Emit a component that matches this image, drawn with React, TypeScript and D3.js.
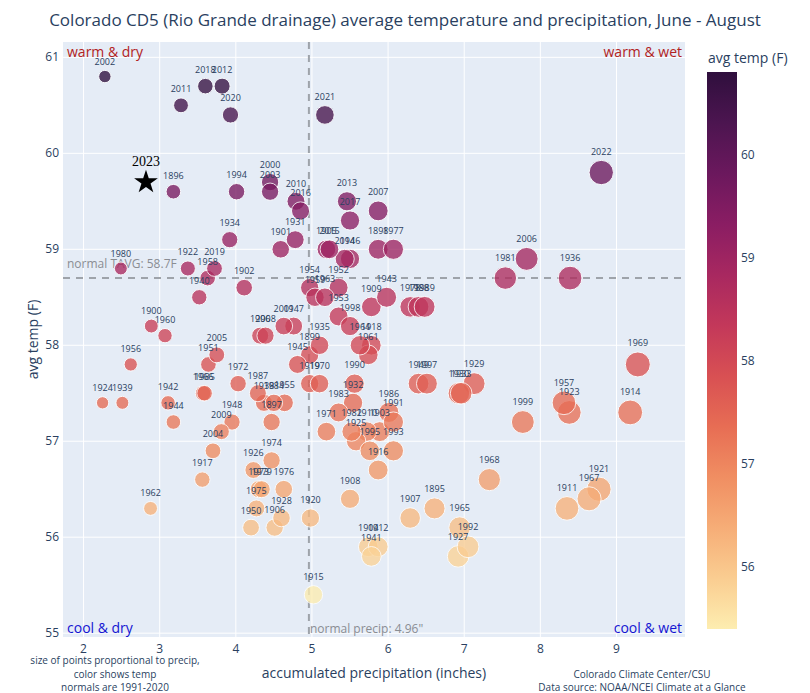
import React, { useEffect, useRef } from "react";
import * as d3 from "d3";

// June-August averages, Colorado climate division 5
const years = [
  1895, 1896, 1897, 1898, 1899, 1900, 1901, 1902, 1903, 1904,
  1905, 1906, 1907, 1908, 1909, 1910, 1911, 1912, 1914, 1915,
  1916, 1917, 1918, 1919, 1920, 1921, 1922, 1923, 1924, 1925,
  1926, 1927, 1928, 1929, 1930, 1931, 1932, 1933, 1934, 1935,
  1936, 1938, 1939, 1940, 1941, 1942, 1943, 1944, 1945, 1946,
  1947, 1948, 1949, 1950, 1951, 1952, 1953, 1954, 1955, 1956,
  1957, 1958, 1959, 1960, 1961, 1962, 1963, 1964, 1965, 1966,
  1967, 1968, 1969, 1970, 1971, 1972, 1973, 1974, 1975, 1976,
  1977, 1978, 1979, 1980, 1981, 1982, 1983, 1984, 1985, 1986,
  1987, 1988, 1989, 1990, 1991, 1992, 1993, 1994, 1995, 1996,
  1997, 1998, 1999, 2000, 2001, 2002, 2003, 2004, 2005, 2006,
  2007, 2008, 2009, 2010, 2011, 2012, 2013, 2014, 2015, 2016,
  2017, 2018, 2019, 2020, 2021, 2022,
];

const precip = [
  6.61, 3.18, 4.47, 5.87, 4.97, 2.89, 4.59, 4.11, 5.89, 5.74,
  5.19, 4.51, 6.29, 5.5, 5.78, 5.72, 8.35, 5.87, 9.18, 5.02,
  5.87, 3.56, 5.78, 4.97, 4.98, 8.77, 3.37, 8.38, 2.25, 5.58,
  4.23, 6.92, 4.6, 7.13, 6.93, 4.78, 5.54, 6.96, 3.92, 5.1,
  8.39, 4.37, 2.51, 3.52, 5.78, 3.11, 5.98, 3.18, 4.81, 5.5,
  4.76, 3.95, 6.4, 4.2, 3.64, 5.35, 5.35, 4.97, 4.64, 2.62,
  8.31, 3.63, 5.04, 3.07, 5.74, 2.88, 5.17, 5.63, 6.94, 3.57,
  8.64, 7.33, 9.28, 5.1, 5.19, 4.03, 4.3, 4.47, 4.27, 4.63,
  6.07, 6.29, 4.34, 2.49, 7.54, 5.52, 5.35, 4.5, 3.59, 6.01,
  4.29, 6.4, 6.48, 5.56, 6.07, 7.05, 6.07, 4.01, 5.76, 4.32,
  6.51, 5.5, 7.77, 4.45, 4.63, 2.28, 4.45, 3.7, 3.75, 7.82,
  5.87, 4.39, 3.81, 4.79, 3.28, 3.82, 5.46, 5.43, 5.23, 4.85,
  5.5, 3.6, 3.72, 3.93, 5.17, 8.8,
];

const temp = [
  56.3, 59.6, 57.2, 59.0, 57.9, 58.2, 59.0, 58.6, 57.1, 55.9,
  59.0, 56.1, 56.2, 56.4, 58.4, 57.1, 56.3, 55.9, 57.3, 55.4,
  56.7, 56.6, 58.0, 57.6, 56.2, 56.5, 58.8, 57.3, 57.4, 57.0,
  56.7, 55.8, 56.2, 57.6, 57.5, 59.1, 57.4, 57.5, 59.1, 58.0,
  58.7, 57.4, 57.4, 58.5, 55.8, 57.4, 58.5, 57.2, 57.8, 58.9,
  58.2, 57.2, 57.6, 56.1, 57.8, 58.6, 58.3, 58.6, 57.4, 57.8,
  57.4, 58.7, 58.5, 58.1, 57.9, 56.3, 58.5, 58.0, 56.1, 57.5,
  56.4, 56.6, 57.8, 57.6, 57.1, 57.6, 56.5, 56.8, 56.3, 56.5,
  59.0, 58.4, 56.5, 58.8, 58.7, 57.1, 57.3, 57.4, 57.5, 57.3,
  57.5, 58.4, 58.4, 57.6, 57.2, 55.9, 56.9, 59.6, 56.9, 58.1,
  57.6, 58.2, 57.2, 59.7, 58.2, 60.8, 59.6, 56.9, 57.9, 58.9,
  59.4, 58.1, 57.1, 59.5, 60.5, 60.7, 59.5, 58.9, 59.0, 59.4,
  59.3, 60.7, 58.8, 60.4, 60.4, 59.8,
];

// the current year, drawn as a star
const current = { year: 2023, precip: 2.82, temp: 59.7 };

const normalTemp = 58.7;
const normalPrecip = 4.96;

// "matter" colour scale
const matter = [
  "rgb(253,237,176)", "rgb(250,205,145)", "rgb(246,173,119)", "rgb(240,142,98)",
  "rgb(231,109,84)", "rgb(216,80,83)", "rgb(195,56,90)", "rgb(168,40,96)",
  "rgb(138,29,99)", "rgb(107,24,93)", "rgb(76,21,80)", "rgb(47,15,61)",
];

const FONT = "'Open Sans', 'Noto Sans', Arial, sans-serif";
const INK = "#2a3f5f";

const App = () => {
  const ref = useRef<SVGSVGElement>(null);

  useEffect(() => {
    const left = 63, right = 685, top = 42, bottom = 637;

    const svg = d3.select(ref.current);
    svg.selectAll("*").remove();

    const x = d3.scaleLinear().domain([1.73, 9.9]).range([left, right]);
    const y = d3.scaleLinear().domain([54.96, 61.16]).range([bottom, top]);
    const xt = x.ticks(8);
    const yt = y.ticks(6);

    const cmin = d3.min(temp) as number;
    const cmax = d3.max(temp) as number;
    const color = d3
      .scaleLinear<string>()
      .domain(matter.map((_, i) => cmin + ((cmax - cmin) * i) / (matter.length - 1)))
      .range(matter)
      .interpolate(d3.interpolateRgb);

    const r = d3.scaleSqrt().domain([0, d3.max(precip) as number]).range([0, 12.5]);

    // title
    svg
      .append("text")
      .attr("x", 405)
      .attr("y", 26)
      .attr("text-anchor", "middle")
      .style("font-family", FONT)
      .style("font-size", "17px")
      .style("fill", INK)
      .text("Colorado CD5 (Rio Grande drainage) average temperature and precipitation, June - August");

    // plot background + grid
    svg
      .append("rect")
      .attr("x", left)
      .attr("y", top)
      .attr("width", right - left)
      .attr("height", bottom - top)
      .attr("fill", "#E5ECF6");

    const grid = svg.append("g").attr("stroke", "white").attr("stroke-width", 1);
    grid
      .selectAll("line.gx")
      .data(xt)
      .join("line")
      .attr("x1", (d) => x(d))
      .attr("x2", (d) => x(d))
      .attr("y1", top)
      .attr("y2", bottom);
    grid
      .selectAll("line.gy")
      .data(yt)
      .join("line")
      .attr("y1", (d) => y(d))
      .attr("y2", (d) => y(d))
      .attr("x1", left)
      .attr("x2", right);

    // tick labels
    svg
      .append("g")
      .selectAll("text")
      .data(xt)
      .join("text")
      .attr("x", (d) => x(d))
      .attr("y", bottom + 16)
      .attr("text-anchor", "middle")
      .style("font-family", FONT)
      .style("font-size", "12px")
      .style("fill", INK)
      .text((d) => d);
    svg
      .append("g")
      .selectAll("text")
      .data(yt)
      .join("text")
      .attr("x", left - 4)
      .attr("y", (d) => y(d) + 4)
      .attr("text-anchor", "end")
      .style("font-family", FONT)
      .style("font-size", "12px")
      .style("fill", INK)
      .text((d) => d);

    // axis titles
    svg
      .append("text")
      .attr("x", (left + right) / 2)
      .attr("y", 678)
      .attr("text-anchor", "middle")
      .style("font-family", FONT)
      .style("font-size", "14px")
      .style("fill", INK)
      .text("accumulated precipitation (inches)");
    svg
      .append("text")
      .attr("transform", `translate(38,${(top + bottom) / 2}) rotate(-90)`)
      .attr("text-anchor", "middle")
      .style("font-family", FONT)
      .style("font-size", "14px")
      .style("fill", INK)
      .text("avg temp (F)");

    // normal lines
    svg
      .append("line")
      .attr("x1", left)
      .attr("x2", right)
      .attr("y1", y(normalTemp))
      .attr("y2", y(normalTemp))
      .attr("stroke", "#9ea3aa")
      .attr("stroke-width", 2)
      .attr("stroke-dasharray", "7,6");
    svg
      .append("line")
      .attr("x1", x(normalPrecip))
      .attr("x2", x(normalPrecip))
      .attr("y1", top)
      .attr("y2", bottom)
      .attr("stroke", "#9ea3aa")
      .attr("stroke-width", 2)
      .attr("stroke-dasharray", "7,6");
    svg
      .append("text")
      .attr("x", left + 4)
      .attr("y", y(normalTemp) - 10)
      .style("font-family", FONT)
      .style("font-size", "12px")
      .style("fill", "#8a8d93")
      .text(`normal TAVG: ${normalTemp}F`);
    svg
      .append("text")
      .attr("x", x(normalPrecip) + 1)
      .attr("y", bottom - 4)
      .style("font-family", FONT)
      .style("font-size", "12px")
      .style("fill", "#8a8d93")
      .text(`normal precip: ${normalPrecip}"`);

    // quadrant notes
    const corners = [
      { t: "warm & dry", x: left + 4, y: top + 15, a: "start", c: "#b22222" },
      { t: "warm & wet", x: right - 3, y: top + 15, a: "end", c: "#b22222" },
      { t: "cool & dry", x: left + 4, y: bottom - 4, a: "start", c: "#1414d2" },
      { t: "cool & wet", x: right - 3, y: bottom - 4, a: "end", c: "#1414d2" },
    ];
    svg
      .append("g")
      .selectAll("text")
      .data(corners)
      .join("text")
      .attr("x", (d) => d.x)
      .attr("y", (d) => d.y)
      .attr("text-anchor", (d) => d.a)
      .style("font-family", FONT)
      .style("font-size", "14px")
      .style("fill", (d) => d.c)
      .text((d) => d.t);

    // bubbles
    const pts = years.map((yr, i) => ({ yr, p: precip[i], t: temp[i] }));
    svg
      .append("g")
      .selectAll("circle")
      .data(pts)
      .join("circle")
      .attr("cx", (d) => x(d.p))
      .attr("cy", (d) => y(d.t))
      .attr("r", (d) => r(d.p))
      .attr("fill", (d) => color(d.t))
      .attr("stroke", "white")
      .attr("stroke-width", 1)
      .attr("opacity", 0.78);
    svg
      .append("g")
      .selectAll("text")
      .data(pts)
      .join("text")
      .attr("x", (d) => x(d.p))
      .attr("y", (d) => y(d.t) - r(d.p) - 5.5)
      .attr("text-anchor", "middle")
      .style("font-family", FONT)
      .style("font-size", "9px")
      .style("fill", INK)
      .text((d) => d.yr);

    // current year star
    svg
      .append("path")
      .attr("d", d3.symbol(d3.symbolStar, 175)())
      .attr("transform", `translate(${x(current.precip)},${y(current.temp)})`)
      .attr("fill", "black");
    svg
      .append("text")
      .attr("x", x(current.precip))
      .attr("y", y(current.temp) - 16)
      .attr("text-anchor", "middle")
      .style("font-family", "'Liberation Serif', 'DejaVu Serif', serif")
      .style("font-size", "14px")
      .style("fill", "black")
      .text(current.year);

    // colorbar
    const cb = d3.scaleLinear().domain([cmin, cmax]).range([629, 72]);
    const grad = svg
      .append("defs")
      .append("linearGradient")
      .attr("id", "cbar")
      .attr("x1", 0)
      .attr("x2", 0)
      .attr("y1", 1)
      .attr("y2", 0);
    grad
      .selectAll("stop")
      .data(matter)
      .join("stop")
      .attr("offset", (_, i) => i / (matter.length - 1))
      .attr("stop-color", (d) => d);
    svg
      .append("rect")
      .attr("x", 707)
      .attr("y", 72)
      .attr("width", 30)
      .attr("height", 629 - 72)
      .attr("fill", "url(#cbar)");
    svg
      .append("g")
      .selectAll("text")
      .data(cb.ticks(5))
      .join("text")
      .attr("x", 741)
      .attr("y", (d) => cb(d) + 4)
      .style("font-family", FONT)
      .style("font-size", "12px")
      .style("fill", INK)
      .text((d) => d);
    svg
      .append("text")
      .attr("x", 708)
      .attr("y", 63)
      .style("font-family", FONT)
      .style("font-size", "14px")
      .style("fill", INK)
      .text("avg temp (F)");

    // footnotes
    const noteL = ["size of points proportional to precip,", "color shows temp", "normals are 1991-2020"];
    svg
      .append("g")
      .selectAll("text")
      .data(noteL)
      .join("text")
      .attr("x", 115)
      .attr("y", (_, i) => 664 + i * 13.5)
      .attr("text-anchor", "middle")
      .style("font-family", FONT)
      .style("font-size", "10px")
      .style("fill", INK)
      .text((d) => d);
    const noteR = ["Colorado Climate Center/CSU", "Data source: NOAA/NCEI Climate at a Glance"];
    svg
      .append("g")
      .selectAll("text")
      .data(noteR)
      .join("text")
      .attr("x", 642)
      .attr("y", (_, i) => 677.5 + i * 13.5)
      .attr("text-anchor", "middle")
      .style("font-family", FONT)
      .style("font-size", "10px")
      .style("fill", INK)
      .text((d) => d);
  }, []);

  return (
    <svg
      ref={ref}
      width={810}
      height={693}
      style={{ position: "absolute", left: 0, top: 0, background: "white" }}
    />
  );
};

export default App;
